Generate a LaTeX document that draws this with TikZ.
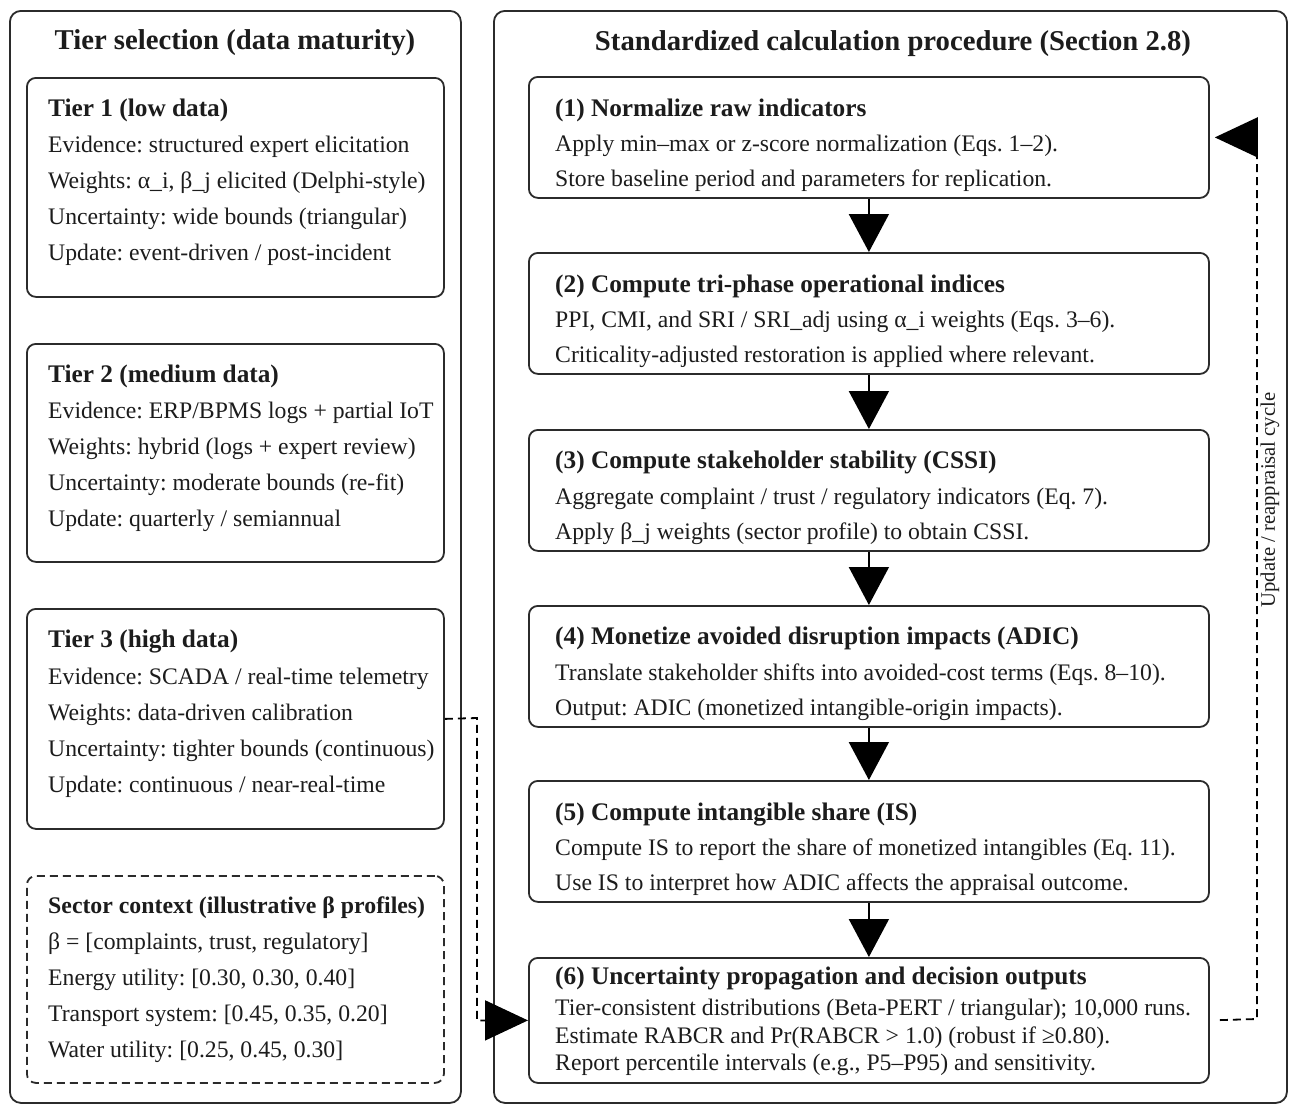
\documentclass[tikz,border=0pt]{standalone}
\usepackage{fontspec}
\setmainfont{Liberation Serif}
\usetikzlibrary{arrows.meta}
\definecolor{lc}{HTML}{2B2B2B}
\definecolor{tc}{HTML}{1C1C1C}
\frenchspacing
\begin{document}
\frenchspacing
\begin{tikzpicture}[x=1pt,y=-1pt,
  outerbox/.style={draw=lc, line width=1.8pt, rounded corners=11pt, inner sep=0pt, anchor=north west},
  tbox/.style={draw=lc, line width=1.8pt, rounded corners=9pt, inner sep=0pt, anchor=north west},
  dbox/.style={tbox, dash pattern=on 8pt off 5pt},
  body/.style={anchor=base west, inner sep=0pt, text=tc, font=\fontsize{23.7}{28}\selectfont},
  hd/.style={anchor=base west, inner sep=0pt, text=tc, font=\fontsize{25.3}{30}\selectfont\bfseries},
  hdsm/.style={anchor=base west, inner sep=0pt, text=tc, font=\fontsize{23.8}{28}\selectfont\bfseries},
  ttl/.style={anchor=base, inner sep=0pt, text=tc, font=\fontsize{28.7}{34}\selectfont\bfseries},
  lab/.style={inner sep=0pt, text=tc, font=\fontsize{20.6}{24}\selectfont},
  arr/.style={draw=black, line width=1.8pt, -{Triangle[length=38pt,width=40pt]}},
  darr/.style={draw=black, line width=1.8pt, dash pattern=on 8pt off 5pt, -{Triangle[length=43pt,width=40pt]}}
]
\useasboundingbox (0,0) rectangle (1290,1106);
\fill[white] (0,0) rectangle (1290,1106);

% outer panels
\node[outerbox, minimum width=451pt, minimum height=1092pt] (L) at (9,10) {};
\node[outerbox, minimum width=793pt, minimum height=1092pt] (R) at (493,10) {};
\node[ttl] (Lt) at (235,49) {Tier selection (data maturity)};
\node[ttl] (Rt) at (893,50) {Standardized calculation procedure (Section 2.8)};

% tier boxes
\node[tbox, minimum width=417pt, minimum height=219pt] (t1) at (26,77) {};
\node[tbox, minimum width=417pt, minimum height=218pt] (t2) at (26,343) {};
\node[tbox, minimum width=417pt, minimum height=220pt] (t3) at (26,608) {};
\node[dbox, minimum width=417pt, minimum height=207pt] (sc) at (26,875) {};

\node[hd]   (t1h) at (48,116) {Tier 1 (low data)};
\node[body] (t1a) at (48,152) {Evidence: structured expert elicitation};
\node[body] (t1b) at (48,188) {Weights: α\_i, β\_j elicited (Delphi-style)};
\node[body] (t1c) at (48,224) {Uncertainty: wide bounds (triangular)};
\node[body] (t1d) at (48,260) {Update: event-driven / post-incident};

\node[hd]   (t2h) at (48,382) {Tier 2 (medium data)};
\node[body] (t2a) at (48,418) {Evidence: ERP/BPMS logs + partial IoT};
\node[body] (t2b) at (48,454) {Weights: hybrid (logs + expert review)};
\node[body] (t2c) at (48,490) {Uncertainty: moderate bounds (re-fit)};
\node[body] (t2d) at (48,526) {Update: quarterly / semiannual};

\node[hd]   (t3h) at (48,647) {Tier 3 (high data)};
\node[body] (t3a) at (48,684) {Evidence: SCADA / real-time telemetry};
\node[body] (t3b) at (48,720) {Weights: data-driven calibration};
\node[body] (t3c) at (48,756) {Uncertainty: tighter bounds (continuous)};
\node[body] (t3d) at (48,792) {Update: continuous / near-real-time};

\node[hdsm] (sch) at (48,913) {Sector context (illustrative β profiles)};
\node[body] (sca) at (48,949) {β = [complaints, trust, regulatory]};
\node[body] (scb) at (48,985) {Energy utility: [0.30, 0.30, 0.40]};
\node[body] (scc) at (48,1021) {Transport system: [0.45, 0.35, 0.20]};
\node[body] (scd) at (48,1057) {Water utility: [0.25, 0.45, 0.30]};

% procedure boxes
\node[tbox, minimum width=680pt, minimum height=121pt] (b1) at (528,76) {};
\node[tbox, minimum width=680pt, minimum height=121pt] (b2) at (528,252) {};
\node[tbox, minimum width=680pt, minimum height=121pt] (b3) at (528,429) {};
\node[tbox, minimum width=680pt, minimum height=121pt] (b4) at (528,605) {};
\node[tbox, minimum width=680pt, minimum height=121pt] (b5) at (528,780) {};
\node[tbox, minimum width=680pt, minimum height=125pt] (b6) at (528,957) {};

\node[hd]   (b1h) at (555,116) {(1) Normalize raw indicators};
\node[body] (b1a) at (555,151) {Apply min–max or z-score normalization (Eqs. 1–2).};
\node[body] (b1b) at (555,186) {Store baseline period and parameters for replication.};

\node[hd]   (b2h) at (555,292) {(2) Compute tri-phase operational indices};
\node[body] (b2a) at (555,327) {PPI, CMI, and SRI / SRI\_adj using α\_i weights (Eqs. 3–6).};
\node[body] (b2b) at (555,362) {Criticality-adjusted restoration is applied where relevant.};

\node[hd]   (b3h) at (555,468) {(3) Compute stakeholder stability (CSSI)};
\node[body] (b3a) at (555,504) {Aggregate complaint / trust / regulatory indicators (Eq. 7).};
\node[body] (b3b) at (555,539) {Apply β\_j weights (sector profile) to obtain CSSI.};

\node[hd]   (b4h) at (555,644) {(4) Monetize avoided disruption impacts (ADIC)};
\node[body] (b4a) at (555,680) {Translate stakeholder shifts into avoided-cost terms (Eqs. 8–10).};
\node[body] (b4b) at (555,715) {Output: ADIC (monetized intangible-origin impacts).};

\node[hd]   (b5h) at (555,820) {(5) Compute intangible share (IS)};
\node[body] (b5a) at (555,855) {Compute IS to report the share of monetized intangibles (Eq. 11).};
\node[body] (b5b) at (555,890) {Use IS to interpret how ADIC affects the appraisal outcome.};

\node[hd]   (b6h) at (555,984) {(6) Uncertainty propagation and decision outputs};
\node[body] (b6a) at (555,1015) {Tier-consistent distributions (Beta-PERT / triangular); 10,000 runs.};
\node[body] (b6b) at (555,1043) {Estimate RABCR and Pr(RABCR > 1.0) (robust if ≥0.80).};
\node[body] (b6c) at (555,1070) {Report percentile intervals (e.g., P5–P95) and sensitivity.};

% flow arrows
\draw[arr] (b1.south) -- (b2.north);
\draw[arr] (b2.south) -- (b3.north);
\draw[arr] (b3.south) -- (b4.north);
\draw[arr] (b4.south) -- (b5.north);
\draw[arr] (b5.south) -- (b6.north);

% feedback loop
\coordinate (fbR) at (1257,1019);
\draw[darr, shorten <=10pt, shorten >=5pt] (b6.east) -- (fbR) |- (b1.east);
\node[lab, rotate=90] (cyc) at (1270,500) {Update / reappraisal cycle};

% tier 3 to step 6
\coordinate (tk) at (477,718);
\draw[darr] (t3.east) -- (tk) |- (b6.west);
\end{tikzpicture}
\end{document}
